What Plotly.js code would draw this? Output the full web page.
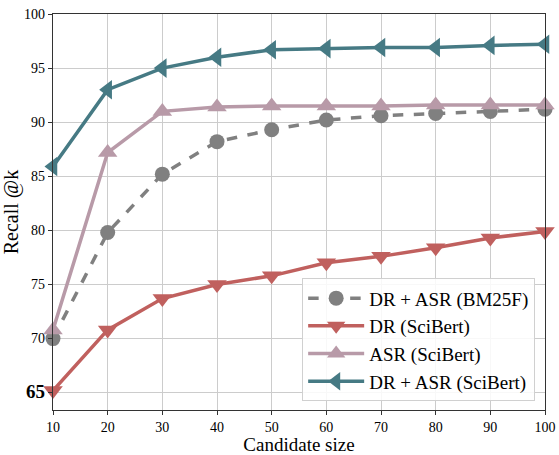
<!DOCTYPE html>
<html><head><meta charset="utf-8">
<script src="https://cdn.plot.ly/plotly-3.0.1.min.js"></script>
<style>body{margin:0;background:#fff}#chart{width:559px;height:455px}</style>
</head><body><div id="chart"></div>
<script>
const candidateSizes = [10, 20, 30, 40, 50, 60, 70, 80, 90, 100];
const drAsrBm25f = [70.0, 79.8, 85.2, 88.2, 89.3, 90.2, 90.6, 90.8, 91.0, 91.2];
const drSciBert = [65.2, 70.8, 73.7, 75.0, 75.8, 77.0, 77.6, 78.4, 79.3, 79.9];
const asrSciBert = [70.8, 87.2, 91.0, 91.4, 91.5, 91.5, 91.5, 91.6, 91.6, 91.6];
const drAsrSciBert = [85.9, 93.0, 95.0, 96.0, 96.7, 96.8, 96.9, 96.9, 97.1, 97.2];
const seriesNames = ["DR + ASR (BM25F)", "DR (SciBert)", "ASR (SciBert)", "DR + ASR (SciBert)"];
const yTickVals = [65, 70, 75, 80, 85, 90, 95, 100];
const yTickText = ['<b><span style="font-size:19px">65</span></b>', "70", "75", "80", "85", "90", "95", "100"];
const xTickVals = [10, 20, 30, 40, 50, 60, 70, 80, 90, 100];

const font = "Liberation Serif";
function tr(y, name, color, symbol, dash, size) {
  return {x: candidateSizes, y: y, name: name, type: "scatter", mode: "lines+markers",
    line: {color: color, width: 3.5, dash: dash || "solid"},
    marker: {color: color, symbol: symbol, size: size, line: {width: 0}}, cliponaxis: false};
}
const data = [
  tr(drAsrBm25f, seriesNames[0], "#808080", "circle", "dash", 15),
  tr(drSciBert, seriesNames[1], "#c0605e", "triangle-down", "solid", 17),
  tr(asrSciBert, seriesNames[2], "#b89aa8", "triangle-up", "solid", 17),
  tr(drAsrSciBert, seriesNames[3], "#467a84", "triangle-left", "solid", 17)
];
const layout = {
  width: 559, height: 455,
  margin: {l: 53, r: 14, t: 14, b: 45},
  paper_bgcolor: "#fff", plot_bgcolor: "#fff",
  font: {family: font, size: 14, color: "#000"},
  showlegend: true,
  legend: {x: 0.98, y: 0.022, xanchor: "right", yanchor: "bottom",
    bgcolor: "rgba(255,255,255,0.85)", bordercolor: "#d0d0d0", borderwidth: 1,
    font: {family: font, size: 19}, tracegroupgap: 0, itemwidth: 56},
  xaxis: {range: [10, 100], tickvals: xTickVals, ticks: "outside", ticklen: 4,
    tickcolor: "#333", showgrid: true, gridcolor: "#cccccc", gridwidth: 1,
    showline: true, linecolor: "#333", linewidth: 1.3, mirror: true, zeroline: false,
    tickfont: {family: font, size: 14},
    title: {text: "Candidate size", font: {family: font, size: 19}, standoff: 3}},
  yaxis: {range: [63.4, 100], tickvals: yTickVals, ticktext: yTickText, ticks: "outside",
    ticklen: 4, tickcolor: "#333", showgrid: true, gridcolor: "#cccccc", gridwidth: 1,
    showline: true, linecolor: "#333", linewidth: 1.3, mirror: true, zeroline: false,
    tickfont: {family: font, size: 14},
    title: {text: "Recall @k", font: {family: font, size: 20}, standoff: 0}}
};
Plotly.newPlot("chart", data, layout, {staticPlot: true, displayModeBar: false});
</script></body></html>
